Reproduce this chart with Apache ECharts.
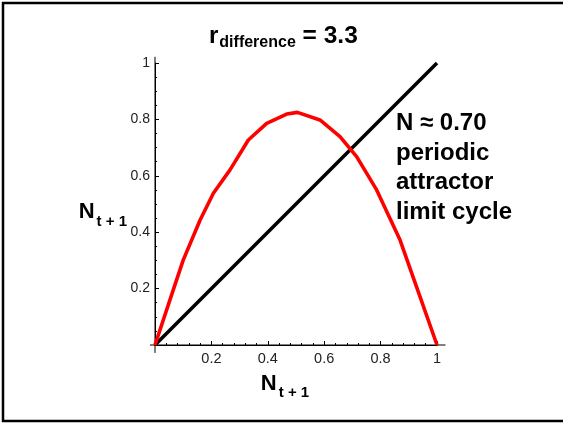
<!DOCTYPE html>
<html><head><meta charset="utf-8">
<script src="https://cdn.jsdelivr.net/npm/echarts@6/dist/echarts.min.js"></script>
<style>html,body{margin:0;padding:0;background:#fff}#c{width:563px;height:423px}</style>
</head><body><div id="c"></div>
<script>
// Red curve (N_t -> N_t+1)
const curveX = [0, 0.053, 0.1, 0.16, 0.207, 0.266, 0.331, 0.396, 0.467, 0.505, 0.585, 0.656, 0.715, 0.786, 0.869, 0.94, 1];
const curveY = [0, 0.16, 0.301, 0.443, 0.538, 0.621, 0.727, 0.786, 0.819, 0.825, 0.798, 0.739, 0.668, 0.55, 0.372, 0.171, 0];
// Black diagonal
const diagX = [0, 1];
const diagY = [0, 1];
// Axis ticks
const xTickLabels = ['0.2', '0.4', '0.6', '0.8', '1'];
const yTickLabels = ['0.2', '0.4', '0.6', '0.8', '1'];
const annotationLines = ['N \u2248 0.70', 'periodic', 'attractor', 'limit cycle'];

const FONT = 'Liberation Sans, Arial, sans-serif';
const chart = echarts.init(document.getElementById('c'), null, {renderer: 'canvas'});

function pairs(xs, ys) { return xs.map((x, i) => [x, ys[i]]); }
function labelFmt(list) { return v => { const s = String(+v.toFixed(2)); return list.includes(s) ? s : ''; }; }

const bold = (size, extra) => Object.assign({fontSize: size, fontWeight: 'bold', fontFamily: FONT, color: '#000'}, extra || {});

const option = {
  animation: false,
  backgroundColor: '#fff',
  title: {
    text: '{r|r}{s|difference}{m| = 3.3}',
    left: 209, top: 24, padding: 0,
    textStyle: {
      rich: {
        r: bold(24, {lineHeight: 26, verticalAlign: 'top'}),
        s: bold(16, {lineHeight: 16, verticalAlign: 'top', padding: [11, 0, 0, 1]}),
        m: bold(24.5, {lineHeight: 26, verticalAlign: 'top'})
      }
    }
  },
  grid: {left: 155, top: 63, width: 282, height: 282, containLabel: false},
  xAxis: {
    type: 'value', min: 0, max: 1, interval: 0.2,
    axisLine: {lineStyle: {color: '#000', width: 1}},
    axisTick: {inside: true, length: 4, lineStyle: {color: '#000'}},
    minorTick: {show: true, splitNumber: 5, length: 2, lineStyle: {color: '#000'}},
    splitLine: {show: false},
    axisLabel: {formatter: labelFmt(xTickLabels), fontSize: 14.5, color: '#222', fontFamily: FONT, margin: 6},
    name: '{n|N}{s|t + 1}',
    nameLocation: 'middle', nameGap: 28,
    nameTextStyle: {
      padding: [0, 22, 0, 0],
      rich: {
        n: bold(22, {lineHeight: 24, verticalAlign: 'top'}),
        s: bold(15, {lineHeight: 15, verticalAlign: 'top', padding: [12, 0, 0, 2]})
      }
    }
  },
  yAxis: {
    type: 'value', min: 0, max: 1, interval: 0.2,
    axisLine: {lineStyle: {color: '#000', width: 1}},
    axisTick: {inside: true, length: 4, lineStyle: {color: '#000'}},
    minorTick: {show: true, splitNumber: 4, length: 2, lineStyle: {color: '#000'}},
    splitLine: {show: false},
    axisLabel: {formatter: labelFmt(yTickLabels), fontSize: 14, color: '#222', fontFamily: FONT, margin: 5},
    name: '{n|N}{s|t + 1}',
    nameLocation: 'middle', nameGap: 28, nameRotate: 0, nameMoveOverlap: false,
    nameTextStyle: {
      padding: [18, 0, 0, 0],
      rich: {
        n: bold(22, {lineHeight: 24, verticalAlign: 'top'}),
        s: bold(15, {lineHeight: 15, verticalAlign: 'top', padding: [13, 0, 0, 2]})
      }
    }
  },
  series: [
    {type: 'line', data: pairs(diagX, diagY), showSymbol: false, symbol: 'none',
     lineStyle: {color: '#000', width: 3.6}, z: 2},
    {type: 'line', data: pairs(curveX, curveY), showSymbol: false, symbol: 'none',
     lineStyle: {color: '#ff0000', width: 3.6, join: 'round'}, z: 3}
  ]
};
chart.setOption(option);

// axis line extensions beyond the plotted range, placed with the library's scales
const px = v => chart.convertToPixel({xAxisIndex: 0}, v);
const py = v => chart.convertToPixel({yAxisIndex: 0}, v);
const x0 = px(0), y0 = py(0);
const border = {stroke: '#000', lineWidth: 2.5};
chart.setOption({
  graphic: [
    {type: 'line', shape: {x1: 3, y1: 2, x2: 3, y2: 422}, style: border, silent: true},
    {type: 'line', shape: {x1: 2, y1: 3, x2: 563, y2: 3}, style: border, silent: true},
    {type: 'line', shape: {x1: 2, y1: 421, x2: 563, y2: 421}, style: border, silent: true},
    {type: 'line', shape: {x1: x0, y1: py(1.022), x2: x0, y2: py(-0.028)}, style: {stroke: '#000', lineWidth: 1}},
    {type: 'line', shape: {x1: px(-0.018), y1: y0, x2: px(1.03), y2: y0}, style: {stroke: '#000', lineWidth: 1}},
    {type: 'text', left: 396, top: 109, style: {
      text: annotationLines.join('\n'), fontSize: 24, fontWeight: 'bold', fontFamily: FONT, fill: '#000', lineHeight: 29.5
    }}
  ]
});
</script>
</body></html>
